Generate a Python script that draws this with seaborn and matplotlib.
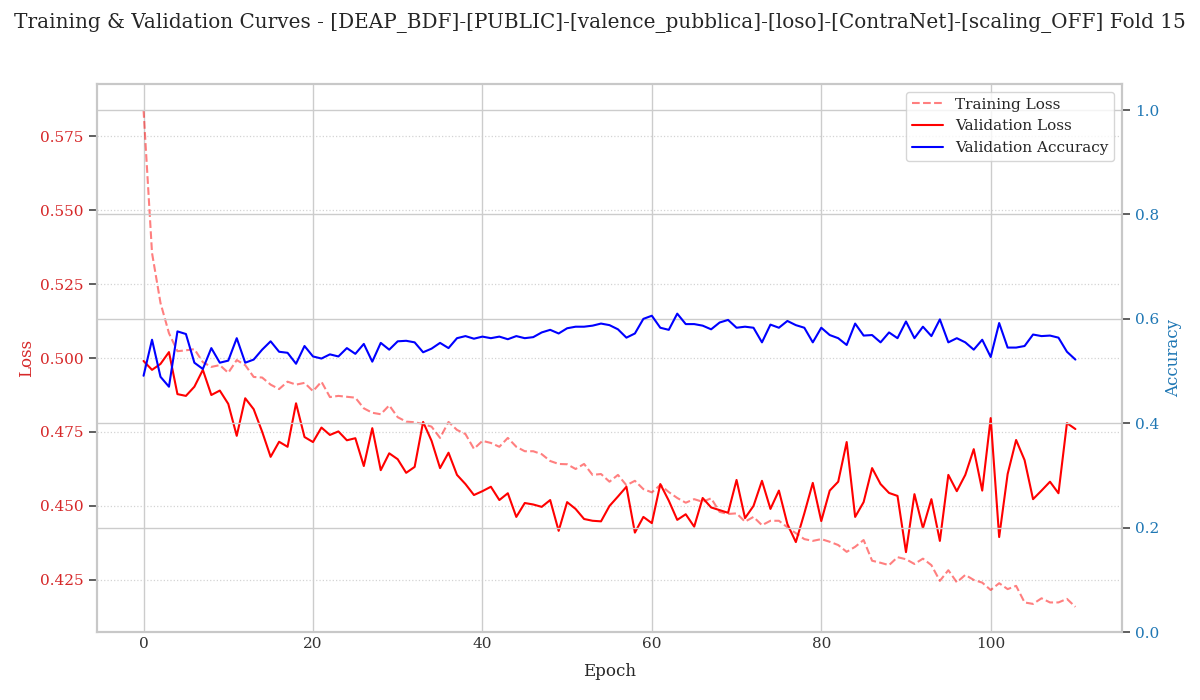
"""Training and validation curves for one LOSO fold."""

import matplotlib

matplotlib.use("Agg")
import matplotlib.pyplot as plt
import numpy as np
import seaborn as sns

train_loss = [
    0.5838, 0.5355, 0.5186, 0.5084, 0.5023, 0.5026, 0.5030, 0.4986, 0.4970, 0.4976,
    0.4950, 0.4993, 0.4976, 0.4936, 0.4934, 0.4910, 0.4895, 0.4920, 0.4910, 0.4916,
    0.4888, 0.4920, 0.4868, 0.4872, 0.4869, 0.4866, 0.4830, 0.4815, 0.4810, 0.4840,
    0.4800, 0.4785, 0.4783, 0.4777, 0.4768, 0.4730, 0.4784, 0.4757, 0.4743, 0.4693,
    0.4720, 0.4713, 0.4700, 0.4730, 0.4700, 0.4685, 0.4685, 0.4675, 0.4652, 0.4642,
    0.4641, 0.4625, 0.4642, 0.4605, 0.4608, 0.4582, 0.4605, 0.4570, 0.4585, 0.4557,
    0.4546, 0.4571, 0.4547, 0.4527, 0.4511, 0.4523, 0.4514, 0.4526, 0.4480, 0.4473,
    0.4475, 0.4447, 0.4463, 0.4435, 0.4450, 0.4450, 0.4428, 0.4408, 0.4388, 0.4382,
    0.4388, 0.4379, 0.4368, 0.4345, 0.4362, 0.4385, 0.4315, 0.4308, 0.4300, 0.4327,
    0.4320, 0.4304, 0.4322, 0.4300, 0.4247, 0.4283, 0.4242, 0.4267, 0.4250, 0.4241,
    0.4216, 0.4239, 0.4219, 0.4230, 0.4174, 0.4169, 0.4188, 0.4174, 0.4174, 0.4186,
    0.4159,
]
val_loss = [
    0.4990, 0.4960, 0.4980, 0.5020, 0.4878, 0.4872, 0.4903, 0.4960, 0.4875, 0.4890,
    0.4845, 0.4737, 0.4864, 0.4827, 0.4751, 0.4666, 0.4717, 0.4700, 0.4847, 0.4733,
    0.4716, 0.4765, 0.4740, 0.4752, 0.4722, 0.4729, 0.4635, 0.4763, 0.4621, 0.4678,
    0.4658, 0.4612, 0.4632, 0.4784, 0.4720, 0.4628, 0.4680, 0.4605, 0.4574, 0.4537,
    0.4550, 0.4565, 0.4520, 0.4543, 0.4463, 0.4510, 0.4505, 0.4497, 0.4520, 0.4416,
    0.4513, 0.4490, 0.4456, 0.4450, 0.4448, 0.4500, 0.4532, 0.4565, 0.4410, 0.4463,
    0.4442, 0.4574, 0.4518, 0.4453, 0.4472, 0.4430, 0.4527, 0.4495, 0.4486, 0.4477,
    0.4588, 0.4459, 0.4500, 0.4585, 0.4490, 0.4552, 0.4439, 0.4378, 0.4475, 0.4578,
    0.4449, 0.4552, 0.4582, 0.4716, 0.4463, 0.4513, 0.4628, 0.4574, 0.4544, 0.4534,
    0.4344, 0.4540, 0.4425, 0.4523, 0.4382, 0.4605, 0.4550, 0.4605, 0.4692, 0.4552,
    0.4797, 0.4395, 0.4608, 0.4723, 0.4655, 0.4523, 0.4552, 0.4582, 0.4543, 0.4780,
    0.4760,
]
val_acc = [
    0.491, 0.560, 0.489, 0.470, 0.576, 0.571, 0.516, 0.504, 0.544, 0.516,
    0.520, 0.563, 0.516, 0.522, 0.541, 0.557, 0.537, 0.535, 0.514, 0.548,
    0.528, 0.524, 0.532, 0.528, 0.544, 0.533, 0.552, 0.518, 0.554, 0.541,
    0.557, 0.558, 0.555, 0.536, 0.543, 0.554, 0.544, 0.563, 0.567, 0.562,
    0.566, 0.563, 0.566, 0.561, 0.567, 0.563, 0.565, 0.574, 0.579, 0.572,
    0.582, 0.585, 0.585, 0.587, 0.591, 0.588, 0.580, 0.564, 0.572, 0.600,
    0.606, 0.583, 0.579, 0.610, 0.590, 0.590, 0.587, 0.580, 0.593, 0.598,
    0.583, 0.585, 0.583, 0.555, 0.589, 0.583, 0.596, 0.588, 0.583, 0.555,
    0.583, 0.569, 0.563, 0.550, 0.591, 0.568, 0.569, 0.555, 0.574, 0.563,
    0.595, 0.563, 0.585, 0.567, 0.599, 0.555, 0.563, 0.555, 0.541, 0.560,
    0.527, 0.592, 0.545, 0.545, 0.548, 0.570, 0.567, 0.568, 0.564, 0.537,
    0.522,
]
epochs = np.arange(len(train_loss))

TITLE = "Training & Validation Curves - [DEAP_BDF]-[PUBLIC]-[valence_pubblica]-[loso]-[ContraNet]-[scaling_OFF] Fold 15"

sns.set_theme(style="whitegrid")
plt.rcParams["font.family"] = ["DejaVu Serif"]

fig, ax1 = plt.subplots(figsize=(12, 7), dpi=100)
ax2 = ax1.twinx()

sns.lineplot(x=epochs, y=train_loss, ax=ax1, color="red", alpha=0.5, linestyle="--",
             linewidth=1.5, label="Training Loss")
sns.lineplot(x=epochs, y=val_loss, ax=ax1, color="red", linewidth=1.5, label="Validation Loss")
sns.lineplot(x=epochs, y=val_acc, ax=ax2, color="blue", linewidth=1.5, label="Validation Accuracy")

ax1.set_xlim(-5.5, 115.5)
ax1.set_ylim(0.4074, 0.5926)
ax2.set_ylim(0, 1.05)
ax1.set_xticks(np.arange(0, 101, 20))
ax1.set_yticks(np.arange(0.425, 0.576, 0.025))
ax2.set_yticks(np.arange(0, 1.01, 0.2))

ax1.set_xlabel("Epoch", fontsize=12, color="#262626", labelpad=9)
ax1.set_ylabel("Loss", fontsize=12, color="tab:red")
ax2.set_ylabel("Accuracy", fontsize=12, color="tab:blue")
ax1.tick_params(axis="x", labelsize=11, labelcolor="#333333", length=0)
ax1.tick_params(axis="y", labelsize=11, labelcolor="tab:red", left=True, length=6,
                width=1.2, color="#444444")
ax2.tick_params(axis="y", labelsize=11, labelcolor="tab:blue", right=True, length=6,
                width=1.2, color="#444444")

ax1.grid(axis="x", color="#cccccc", linewidth=1.0)
ax1.grid(axis="y", color="#cccccc", linestyle=":", linewidth=0.9, alpha=0.85)
ax2.grid(axis="y", color="#cccccc", linewidth=1.0)
ax2.grid(axis="x", visible=False)
for ax in (ax1, ax2):
    for spine in ax.spines.values():
        spine.set_color("#c8c8c8")
        spine.set_linewidth(1.5)

handles1, labels1 = ax1.get_legend_handles_labels()
handles2, labels2 = ax2.get_legend_handles_labels()
ax1.get_legend().remove()
ax2.get_legend().remove()
ax2.legend(handles1 + handles2, labels1 + labels2, loc="upper right", fontsize=11,
           frameon=True, framealpha=0.8, edgecolor="#cccccc")

fig.suptitle(TITLE, fontsize=14.4, x=0.5, y=0.982, color="#262626")
fig.subplots_adjust(left=0.0808, right=0.935, top=0.88, bottom=0.0971)
fig.savefig("out.png", dpi=100)
plt.close(fig)
